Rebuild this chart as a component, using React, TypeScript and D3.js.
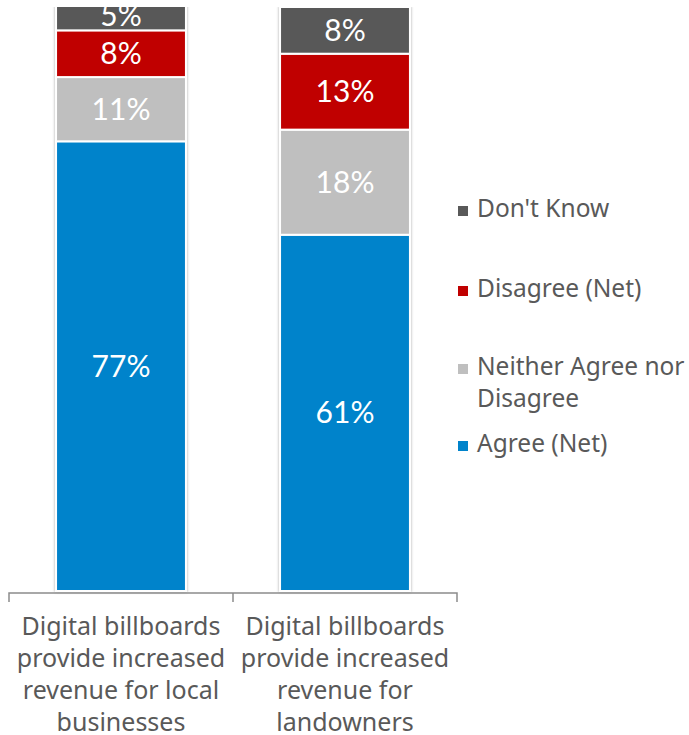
import React from "react";
import * as d3 from "d3";

const categories = [
  ["Digital billboards", "provide increased", "revenue for local", "businesses"],
  ["Digital billboards", "provide increased", "revenue for", "landowners"],
];
const seriesNames = ["Agree (Net)", "Neither Agree nor Disagree", "Disagree (Net)", "Don't Know"];
const agree = [77, 61];
const neither = [11, 18];
const disagree = [8, 13];
const dontKnow = [5, 8];
const colors = ["#0083CB", "#BFBFBF", "#C00000", "#595959"];
const legendOrder = [3, 2, 1, 0];
const legendLines = [["Agree (Net)"], ["Neither Agree nor", "Disagree"], ["Disagree (Net)"], ["Don't Know"]];

const W = 689;
const H = 735;

export default function App() {
  const series = [agree, neither, disagree, dontKnow];
  const data = categories.map((_, i) => ({
    idx: i,
    agree: agree[i],
    neither: neither[i],
    disagree: disagree[i],
    dontKnow: dontKnow[i],
  }));
  const keys = ["agree", "neither", "disagree", "dontKnow"];
  const stack = d3.stack<any>().keys(keys)(data as any);

  const x = d3.scaleBand<number>().domain(categories.map((_, i) => i)).range([9, 457]).padding(0);
  const y = d3.scaleLinear().domain([0, 100]).range([591, 7]);
  const barW = x.bandwidth() * 0.58;
  const labelFont = "Lato, 'DejaVu Sans', sans-serif";
  const textFont = "'Noto Sans', 'DejaVu Sans', sans-serif";
  const legendY = [452, 375, 297, 217];

  return (
    <svg width={W} height={H} style={{ position: "absolute", left: 0, top: 0 }}>
      <defs>
        <clipPath id="plot">
          <rect x={0} y={7} width={W} height={600} />
        </clipPath>
        <filter id="sh" x="-10%" y="-10%" width="120%" height="120%">
          <feGaussianBlur in="SourceAlpha" stdDeviation="1.5" />
          <feOffset dx="0" dy="0" result="b" />
          <feComponentTransfer>
            <feFuncA type="linear" slope="0.35" />
          </feComponentTransfer>
          <feMerge>
            <feMergeNode />
            <feMergeNode in="SourceGraphic" />
          </feMerge>
        </filter>
      </defs>
      <g clipPath="url(#plot)">
        {data.map((d, i) => {
          const cx = (x(i) as number) + x.bandwidth() / 2;
          return (
            <g key={i} filter="url(#sh)">
              {stack.map((s, k) => {
                const seg = s[i];
                const y0 = y(seg[1]);
                const y1 = y(seg[0]);
                return (
                  <rect
                    key={k}
                    x={cx - barW / 2}
                    y={y0}
                    width={barW}
                    height={y1 - y0}
                    fill={colors[k]}
                    stroke="#ffffff"
                    strokeWidth={2}
                  />
                );
              })}
            </g>
          );
        })}
        {data.map((d, i) => {
          const cx = (x(i) as number) + x.bandwidth() / 2;
          return stack.map((s, k) => {
            const seg = s[i];
            const cy = (y(seg[0]) + y(seg[1])) / 2;
            return (
              <text
                key={`${i}-${k}`}
                x={cx}
                y={cy + 10.5}
                textAnchor="middle"
                fill="#ffffff"
                fontFamily={labelFont}
                fontSize={30}
              >
                {series[k][i]}%
              </text>
            );
          });
        })}
      </g>
      <path
        d={`M${x(0)},602V593H${(x(1) as number) + x.bandwidth()}V602M${x(1)},593V602`}
        fill="none"
        stroke="#8C8C8C"
        strokeWidth={1.5}
      />
      {categories.map((lines, i) => {
        const cx = (x(i) as number) + x.bandwidth() / 2;
        return (
          <text key={i} textAnchor="middle" fill="#595959" fontFamily={textFont} fontSize={25}>
            {lines.map((l, j) => (
              <tspan key={j} x={cx} y={635 + j * 32}>
                {l}
              </tspan>
            ))}
          </text>
        );
      })}
      {legendOrder.map((k, j) => (
        <g key={k}>
          <rect x={458} y={legendY[k] - 11} width={10} height={10} fill={colors[k]} />
          <text fill="#595959" fontFamily={textFont} fontSize={24.5}>
            {legendLines[k].map((l, m) => (
              <tspan key={m} x={477} y={legendY[k] + m * 32}>
                {l}
              </tspan>
            ))}
          </text>
        </g>
      ))}
    </svg>
  );
}
